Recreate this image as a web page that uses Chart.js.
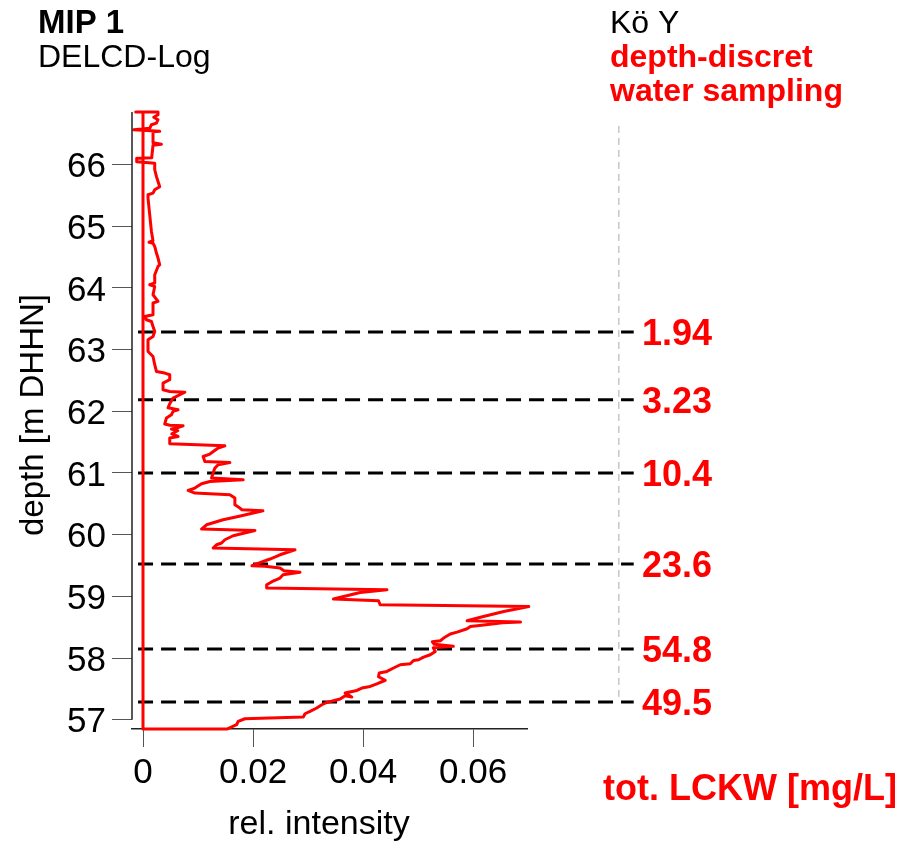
<!DOCTYPE html>
<html><head><meta charset="utf-8">
<script src="https://cdn.jsdelivr.net/npm/chart.js@4/dist/chart.umd.min.js"></script>
<style>html,body{margin:0;padding:0;background:#fff}canvas{display:block}</style>
</head><body>
<canvas id="c" width="924" height="842"></canvas>
<script>
// DELCD log trace (depth in m DHHN, relative intensity)
const depth = [
  66.849, 56.849,
  56.849,
  56.919, 56.972, 57.016,
  57.044, 57.097, 57.135, 57.190, 57.243, 57.280, 57.308, 57.335,
  57.389, 57.368, 57.433, 57.475, 57.514, 57.540,
  57.583, 57.640, 57.697, 57.757, 57.783, 57.838, 57.891,
  57.908, 57.961, 57.972, 58.016, 58.053, 58.107,
  58.167, 58.191, 58.224, 58.264, 58.280, 58.324, 58.389, 58.421,
  58.475, 58.512, 58.535, 58.572, 58.583, 58.605, 58.674, 58.755, 58.836,
  58.864, 58.929, 58.956, 59.063, 59.107,
  59.135, 59.188, 59.237, 59.297, 59.350, 59.391, 59.415, 59.459, 59.488, 59.496, 59.545, 59.605, 59.674, 59.755,
  59.783, 59.836, 59.864, 59.917, 59.982, 60.068, 60.091, 60.160, 60.241, 60.295,
  60.387, 60.404, 60.431, 60.485, 60.593, 60.647, 60.674, 60.716, 60.755, 60.825, 60.862, 60.890,
  60.917, 60.998, 61.079, 61.133, 61.170, 61.186, 61.267, 61.306, 61.404, 61.441,
  61.473, 61.566, 61.592, 61.635, 61.684, 61.711, 61.728, 61.765, 61.773, 61.793,
  61.890, 61.943, 61.997, 62.024, 62.057, 62.122, 62.214, 62.308, 62.321, 62.348,
  62.457, 62.511, 62.592, 62.619, 62.645, 62.754, 62.888, 62.969, 63.159,
  63.212, 63.293, 63.374, 63.455, 63.483, 63.536, 63.564, 63.754, 63.780, 63.888,
  64.023, 64.050, 64.078, 64.212, 64.347, 64.374, 64.483, 64.564, 64.671, 64.723,
  64.739, 64.763, 64.914, 65.455, 65.509, 65.536, 65.590, 65.639, 65.805, 65.914,
  66.019, 66.044, 66.101, 66.109, 66.311, 66.327, 66.352, 66.530, 66.538, 66.562,
  66.587, 66.643, 66.671, 66.725, 66.765, 66.805, 66.849, 66.849
];
const intensity = [
  0, 0,
  0.01525,
  0.01701, 0.01730, 0.01852,
  0.02914, 0.02945, 0.03036, 0.03158, 0.03250, 0.03341, 0.03461, 0.03583,
  0.03674, 0.03796, 0.03674, 0.03887, 0.03978, 0.04129,
  0.04251, 0.04403, 0.04281, 0.04293, 0.04434, 0.04554, 0.04676,
  0.04858, 0.04918, 0.05009, 0.05100, 0.05222, 0.05313,
  0.05277, 0.05641, 0.05295, 0.05259, 0.05404, 0.05464, 0.05586, 0.05709,
  0.05891, 0.05951, 0.06193, 0.06534, 0.06862, 0.05891, 0.06188, 0.06557, 0.07013,
  0.04311, 0.04281, 0.03461, 0.03947, 0.04434,
  0.02248, 0.02248, 0.02344, 0.02490, 0.02545, 0.02854, 0.02563, 0.02490, 0.02217, 0.01980, 0.02126, 0.02308, 0.02490, 0.02763,
  0.01275, 0.01337, 0.01428, 0.01488, 0.01639, 0.02035, 0.01064, 0.01155, 0.01457, 0.01730,
  0.02180, 0.01798, 0.01761, 0.01670, 0.01670, 0.01579, 0.00942, 0.00820, 0.00942, 0.01064, 0.01215, 0.01821,
  0.01246, 0.01275, 0.01306, 0.01366, 0.01579, 0.01124, 0.01093, 0.01215, 0.01366, 0.01488,
  0.00486, 0.00486, 0.00638, 0.00523, 0.00632, 0.00517, 0.00608, 0.00729, 0.00486, 0.00395,
  0.00426, 0.00517, 0.00546, 0.00638, 0.00455, 0.00486, 0.00546, 0.00760, 0.00486, 0.00364,
  0.00364, 0.00486, 0.00486, 0.00395, 0.00244, 0.00213, 0.00182, 0.00091, 0.00091,
  0.00182, 0.00213, 0.00182, 0.00153, 0.00062, 0.00031, 0.00182, 0.00182, 0.00273, 0.00182,
  0.00213, 0.00122, 0.00213, 0.00213, 0.00273, 0.00304, 0.00273, 0.00244, 0.00213, 0.00182,
  0.00109, 0.00182, 0.00153, 0.00091, 0.00091, 0.00182, 0.00213, 0.00304, 0.00244, 0.00213,
  0.00213, -0.00115, -0.00115, 0.00158, 0.00182, 0.00335, 0.00182, 0.00182, 0.00304, -0.00169,
  0.00122, 0.00153, 0.00244, 0.00273, 0.00195, 0.00273, 0.00273, -0.00133
];
// depth-discrete water sampling (tot. LCKW, mg/L)
const sampleDepths = [63.284, 62.186, 60.998, 59.523, 58.146, 57.287];
const sampleLabels = ['1.94', '3.23', '10.4', '23.6', '54.8', '49.5'];
// axes
const xTicks = [0, 0.02, 0.04, 0.06];
const xTickLabels = ['0', '0.02', '0.04', '0.06'];
const yTicks = [57, 58, 59, 60, 61, 62, 63, 64, 65, 66];

const FONT = '"Liberation Sans", Arial, Helvetica, sans-serif';
const RED = '#ff0000';

// layout constants (styling, not data)
const X_MIN = -0.002, X_MAX = 0.0698, Y_MIN = 56.85, Y_MAX = 66.85;
const DASH_X0 = -0.0009, DASH_X1 = 0.0892, LABEL_X = 0.0907;
const GRAY_X = 0.0865, GRAY_Y0 = 57.37, GRAY_Y1 = 66.68;

const trace = depth.map((d, i) => ({x: intensity[i], y: d}));
const datasets = [{
  data: trace, showLine: true, borderColor: RED, borderWidth: 3, pointRadius: 0,
  borderJoinStyle: 'round', borderCapStyle: 'round', tension: 0, clip: false
}];
sampleDepths.forEach(d => datasets.push({
  data: [{x: DASH_X0, y: d}, {x: DASH_X1, y: d}], showLine: true, borderColor: '#000',
  borderWidth: 3, borderDash: [15, 8], pointRadius: 0, clip: false
}));
datasets.push({
  data: [{x: GRAY_X, y: GRAY_Y0}, {x: GRAY_X, y: GRAY_Y1}], showLine: true, borderColor: '#aaaaaa',
  borderWidth: 1, borderDash: [7, 5], pointRadius: 0, clip: false
});

const deco = {
  id: 'deco',
  afterDraw(chart) {
    const {ctx, chartArea} = chart;
    const xs = chart.scales.x, ys = chart.scales.y;
    ctx.save();
    // y axis line from 57 to the top
    ctx.strokeStyle = '#222'; ctx.lineWidth = 1.5;
    ctx.beginPath();
    ctx.moveTo(chartArea.left, ys.getPixelForValue(yTicks[0]));
    ctx.lineTo(chartArea.left, chartArea.top);
    ctx.stroke();
    // sample labels
    ctx.fillStyle = RED;
    ctx.font = 'bold 36px ' + FONT;
    ctx.textAlign = 'left'; ctx.textBaseline = 'alphabetic';
    sampleDepths.forEach((d, i) => {
      ctx.fillText(sampleLabels[i], xs.getPixelForValue(LABEL_X), ys.getPixelForValue(d) + 13);
    });
    ctx.fillText('tot. LCKW [mg/L]', 603, 800);
    // headers
    ctx.fillStyle = '#000';
    ctx.font = 'bold 33px ' + FONT;
    ctx.fillText('MIP 1', 38, 33);
    ctx.font = '32px ' + FONT;
    ctx.fillText('DELCD-Log', 38, 67);
    ctx.fillText('Kö Y', 610, 33);
    ctx.fillStyle = RED;
    ctx.font = 'bold 32px ' + FONT;
    ctx.fillText('depth-discret', 610, 67);
    ctx.fillText('water sampling', 610, 101);
    // axis titles
    ctx.fillStyle = '#000';
    ctx.font = '34px ' + FONT;
    ctx.textAlign = 'center';
    ctx.fillText('rel. intensity', 319, 834);
    ctx.save();
    ctx.translate(34, 415);
    ctx.rotate(-Math.PI / 2);
    ctx.font = '33px ' + FONT;
    ctx.textBaseline = 'middle';
    ctx.fillText('depth [m DHHN]', 0, 0);
    ctx.restore();
    ctx.restore();
  }
};

new Chart(document.getElementById('c'), {
  type: 'scatter',
  data: {datasets},
  options: {
    responsive: false, animation: false, devicePixelRatio: 1,
    layout: {padding: {left: 0, top: 112, right: 397, bottom: 13}},
    plugins: {legend: {display: false}, tooltip: {enabled: false}},
    scales: {
      x: {
        type: 'linear', min: X_MIN, max: X_MAX,
        afterBuildTicks: s => { s.ticks = xTicks.map(v => ({value: v})); },
        afterFit: s => { s.height = 100; },
        ticks: {
          font: {family: FONT, size: 35}, color: '#000', padding: 5, maxRotation: 0,
          callback: (v) => { const i = xTicks.indexOf(v); return i >= 0 ? xTickLabels[i] : ''; }
        },
        grid: {drawOnChartArea: false, drawTicks: true, tickLength: 18, color: '#555', lineWidth: 1},
        border: {display: true, color: '#222', width: 1.5}
      },
      y: {
        type: 'linear', min: Y_MIN, max: Y_MAX,
        afterBuildTicks: s => { s.ticks = yTicks.map(v => ({value: v})); },
        afterFit: s => { s.width = 132; },
        ticks: {font: {family: FONT, size: 35}, color: '#000', padding: 6, labelOffset: 3, callback: v => String(v)},
        grid: {drawOnChartArea: false, drawTicks: true, tickLength: 20, color: '#555', lineWidth: 1},
        border: {display: false}
      }
    }
  },
  plugins: [deco]
});
</script>
</body></html>
